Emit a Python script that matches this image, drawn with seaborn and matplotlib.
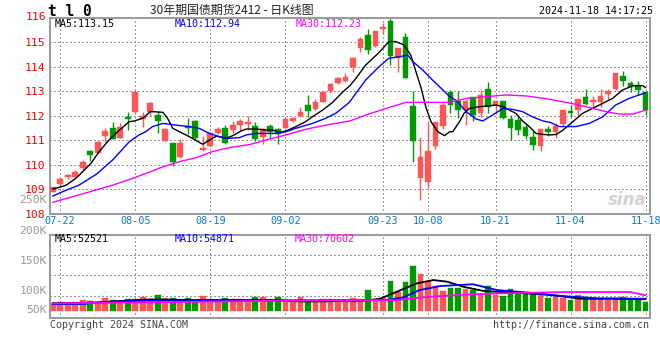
import matplotlib
matplotlib.use("Agg")
import matplotlib.pyplot as plt
import seaborn as sns
import numpy as np
import pandas as pd

# ---------------- data ----------------
dates = ["07-19",
         "07-22", "07-23", "07-24", "07-25", "07-26", "07-29", "07-30", "07-31", "08-01", "08-02",
         "08-05", "08-06", "08-07", "08-08", "08-09", "08-12", "08-13", "08-14", "08-15", "08-16",
         "08-19", "08-20", "08-21", "08-22", "08-23", "08-26", "08-27", "08-28", "08-29", "08-30",
         "09-02", "09-03", "09-04", "09-05", "09-06", "09-09", "09-10", "09-11", "09-12", "09-13",
         "09-18", "09-19", "09-20", "09-23", "09-24", "09-25", "09-26", "09-27", "09-30",
         "10-08", "10-09", "10-10", "10-11", "10-14", "10-15", "10-16", "10-17", "10-18",
         "10-21", "10-22", "10-23", "10-24", "10-25", "10-28", "10-29", "10-30", "10-31", "11-01",
         "11-04", "11-05", "11-06", "11-07", "11-08", "11-11", "11-12", "11-13", "11-14", "11-15",
         "11-18"]

opens = [108.90, 109.22, 109.50, 109.51, 109.86, 110.56, 110.50, 111.19, 111.49, 111.11,
         111.96, 112.17, 111.88, 112.17, 112.05, 110.99, 110.89, 110.32, 111.58, 111.79,
         110.60, 110.78, 111.30, 111.50, 111.42, 111.62, 111.67, 111.58, 111.15, 111.58,
         111.45, 111.50, 111.79, 112.00, 112.44, 112.29, 112.58, 113.01, 113.34, 113.42,
         114.00, 114.78, 115.30, 114.86, 115.56, 115.87, 114.35, 115.22, 112.40, 109.45,
         109.31, 110.78, 111.60, 112.96, 112.60, 112.24, 112.77, 112.13, 113.09, 112.44,
         112.60, 111.87, 111.83, 111.54, 111.13, 110.78, 111.46, 111.35, 111.68, 112.20,
         112.24, 112.78, 112.55, 112.55, 112.89, 113.09, 113.62, 113.34, 113.26, 112.98]
closes = [109.08, 109.42, 109.57, 109.72, 110.11, 110.41, 110.94, 111.39, 111.07, 111.54,
          111.87, 112.98, 112.00, 112.52, 111.79, 111.46, 110.13, 110.89, 111.50, 111.08,
          110.69, 111.28, 111.46, 110.89, 111.64, 111.79, 111.75, 111.07, 111.46, 111.32,
          111.24, 111.87, 111.92, 112.17, 112.20, 112.55, 112.98, 113.30, 113.53, 113.58,
          114.37, 115.13, 114.70, 115.46, 115.62, 114.45, 114.75, 113.56, 110.98, 110.32,
          110.56, 111.73, 112.44, 112.44, 112.25, 112.60, 112.03, 112.85, 112.37, 112.60,
          111.92, 111.51, 111.42, 111.19, 110.81, 111.46, 111.35, 111.58, 112.24, 112.13,
          112.69, 112.47, 112.64, 112.82, 113.01, 113.75, 113.42, 113.18, 113.07, 112.24]
highs = [109.11, 109.49, 109.62, 109.77, 110.20, 110.62, 110.97, 111.49, 111.76, 111.72,
         112.17, 113.00, 112.17, 112.55, 112.21, 111.49, 110.90, 111.05, 111.91, 111.83,
         111.16, 111.32, 111.54, 111.62, 111.79, 111.87, 111.99, 111.76, 111.49, 111.65,
         111.49, 111.95, 111.96, 112.36, 112.85, 112.69, 113.00, 113.35, 113.60, 113.73,
         114.39, 115.22, 115.54, 115.47, 115.79, 115.98, 114.76, 115.38, 113.01, 111.15,
         111.76, 111.74, 112.51, 113.05, 113.01, 112.64, 112.78, 113.05, 113.39, 112.64,
         112.62, 112.03, 112.03, 111.65, 111.38, 111.47, 111.58, 111.69, 112.26, 112.44,
         112.70, 113.09, 112.82, 113.09, 113.09, 113.76, 113.83, 113.42, 113.42, 113.00]
lows = [108.88, 109.11, 109.43, 109.45, 109.77, 110.17, 110.49, 110.94, 111.07, 111.08,
        111.42, 112.07, 111.56, 111.99, 111.31, 110.98, 109.95, 110.29, 111.27, 111.03,
        110.56, 110.74, 111.27, 110.86, 111.28, 111.39, 111.42, 110.97, 110.83, 111.11,
        110.83, 111.49, 111.73, 111.96, 111.96, 112.25, 112.55, 112.93, 113.30, 113.37,
        113.80, 114.62, 114.54, 114.82, 115.34, 114.07, 113.80, 113.55, 110.13, 108.56,
        109.04, 110.64, 111.46, 112.13, 111.92, 111.62, 111.79, 111.96, 112.13, 112.14,
        111.87, 111.01, 111.22, 111.05, 110.60, 110.56, 111.19, 111.11, 111.58, 111.96,
        112.03, 112.45, 112.37, 112.37, 112.64, 113.05, 113.22, 112.98, 112.85, 112.03]

# volume in thousands of lots
volumes_k = [34, 40, 31, 40, 49, 45, 34, 58, 49, 45,
             54, 54, 63, 49, 72, 58, 58, 49, 58, 48,
             67, 52, 49, 58, 54, 54, 49, 63, 63, 49,
             63, 49, 40, 63, 45, 40, 54, 52, 43, 42,
             58, 52, 94, 55, 60, 135, 85, 130, 202, 166,
             135, 112, 90, 103, 103, 99, 94, 76, 111, 72,
             67, 99, 85, 76, 76, 79, 58, 61, 58, 49,
             70, 62, 52, 55, 50, 60, 62, 50, 50, 42]

# price moving averages (position = trading-day index)
ma5_pos = [0, 0.9, 1.8, 3.1, 4.0, 5.1, 6.2, 7.5, 8.9, 10.2, 10.9, 12.0, 13.0, 13.3, 14.7, 15.3, 16.0,
           16.9, 18.2, 19.5, 20.0, 20.9, 21.8, 23.1, 24.0, 25.1, 25.8, 27.1, 28.4, 29.3, 30.2, 31.1,
           32.4, 33.7, 34.6, 36.0, 37.3, 38.6, 39.6, 40.4, 41.7, 43.5, 44.8, 45.7, 46.8, 47.7, 48.4,
           49.1, 49.7, 50.4, 51.3, 52.2, 52.9, 53.3, 54.2, 54.8, 55.5, 56.8, 58.2, 59.1, 60.0, 60.8,
           61.7, 62.6, 63.5, 64.4, 65.3, 66.3, 67.1, 68.0, 69.3, 70.6, 71.9, 73.3, 74.6, 75.9, 77.3,
           78.6, 79]
ma5_val = [109.01, 109.08, 109.17, 109.45, 109.72, 110.06, 110.54, 111.01, 111.42, 111.76, 111.79,
           111.90, 112.17, 112.17, 112.14, 111.90, 111.49, 111.35, 111.15, 110.92, 110.84, 111.01,
           111.17, 111.08, 111.19, 111.38, 111.46, 111.46, 111.42, 111.42, 111.32, 111.38, 111.56,
           111.76, 111.96, 112.24, 112.55, 112.96, 113.23, 113.53, 114.07, 114.59, 115.03, 115.03,
           114.89, 114.48, 113.80, 113.12, 112.37, 111.76, 111.35, 111.19, 111.35, 111.35, 111.76,
           112.10, 112.30, 112.37, 112.41, 112.44, 112.37, 112.24, 112.10, 111.79, 111.56, 111.28,
           111.24, 111.22, 111.24, 111.42, 111.76, 112.10, 112.30, 112.51, 112.71, 113.05, 113.23,
           113.23, 113.15]
ma10_pos = [0, 1.3, 3.5, 5.8, 8.0, 10.2, 11.5, 12.4, 13.3, 14.7, 16.4, 18.2, 19.5, 20.9, 22.2, 23.5,
            24.9, 25.8, 27.1, 29.8, 31.1, 32.4, 34.6, 36.4, 37.7, 39.1, 39.6, 40.4, 41.7, 43.5, 44.8,
            46.2, 47.3, 48.0, 49.3, 50.6, 52.0, 52.9, 53.7, 55.1, 56.4, 57.3, 58.6, 60.0, 61.3, 62.6,
            63.9, 65.3, 66.3, 67.5, 69.7, 71.5, 73.3, 75.0, 76.8, 78.1, 79]
ma10_val = [108.72, 108.90, 109.17, 109.61, 110.20, 110.94, 111.22, 111.35, 111.56, 111.69, 111.62,
            111.56, 111.49, 111.28, 111.15, 111.08, 111.11, 111.22, 111.28, 111.28, 111.35, 111.49,
            111.69, 111.90, 112.10, 112.44, 112.58, 112.92, 113.46, 114.01, 114.35, 114.41, 114.48,
            114.21, 113.87, 113.46, 113.05, 112.78, 112.64, 112.17, 111.87, 111.79, 112.03, 112.30,
            112.26, 112.17, 111.96, 111.79, 111.73, 111.56, 111.56, 111.69, 111.96, 112.44, 112.71,
            112.85, 112.94]
ma30_pos = [0, 3.5, 8.0, 10.7, 13.0, 14.7, 16.9, 19.1, 21.3, 23.5, 26.3, 28.4, 31.1, 33.7, 36.4, 39.6,
            41.7, 44.4, 47.1, 49.7, 52.9, 55.1, 57.7, 60.4, 63.1, 64.8, 66.3, 68.4, 71.1, 73.7, 75.5,
            77.3, 79]
ma30_val = [108.47, 108.77, 109.17, 109.45, 109.72, 109.92, 110.13, 110.29, 110.54, 110.70, 110.83,
            111.01, 111.22, 111.45, 111.62, 111.79, 112.03, 112.30, 112.55, 112.55, 112.55, 112.71,
            112.78, 112.85, 112.81, 112.74, 112.67, 112.55, 112.37, 112.17, 112.07, 112.07, 112.23]

# volume moving averages (thousands)
vma5_pos = [0, 5, 9, 13, 19, 24, 29, 33, 36.5, 39.2, 41.4, 43.6, 45.9, 48.5, 50.7, 52.5, 54.7, 57.4,
            61.4, 64.9, 67.6, 70.3, 74.7, 79]
vma5_val = [35, 36, 45, 52, 49, 49, 49, 43, 43, 46, 46, 55, 87, 124, 139, 132, 109, 90, 82, 76, 67,
            55, 55, 52.5]
vma10_pos = [0, 4.3, 5, 13, 20, 30, 36.5, 39.2, 44.5, 46.7, 48.9, 51.6, 56.0, 59.2, 63.6, 68.0, 72.5, 79]
vma10_val = [31, 31, 37, 48, 48, 48, 48, 49, 49, 61, 94, 112, 120, 94, 82, 67, 57, 54.9]
vma30_pos = [0, 15, 30, 36.5, 41.4, 45.9, 48.1, 51.6, 54.7, 59.2, 68.0, 76.9, 79]
vma30_val = [34, 40, 46, 48, 49, 49, 58, 67, 73, 79, 85, 85, 70.6]

date_ticks = ["07-22", "08-05", "08-19", "09-02", "09-23", "10-08", "10-21", "11-04", "11-18"]
price_ticks = [108, 109, 110, 111, 112, 113, 114, 115]
vol_labels = ["250K", "200K", "150K", "100K", "50K"]

title = "30年期国债期货2412 - 日K线图"
symbol = "t l 0"
stamp = "2024-11-18 14:17:25"
price_legend = ["MA5:113.15", "MA10:112.94", "MA30:112.23"]
vol_legend = ["MA5:52521", "MA10:54871", "MA30:70602"]

# ---------------- style ----------------
sns.set_style("white")
plt.rcParams["font.family"] = ["DejaVu Sans Mono", "Noto Sans CJK SC"]
plt.rcParams["lines.dash_capstyle"] = "butt"

RED = "#ff5555"
GREEN = "#009900"
GRID = "#999999"
BORDER = "#999999"
MONO = "DejaVu Sans Mono"
CJK = ["Noto Sans CJK SC", "DejaVu Sans"]
GRID_KW = dict(color=GRID, linewidth=0.72, linestyle=(0, (1.4, 2.6)), zorder=1.5,
               antialiased=False, dash_capstyle="butt")

W, H = 660, 360
fig = plt.figure(figsize=(6.6, 3.6), dpi=100)
fig.patch.set_facecolor("white")

def fx(px):
    return px / W

def fy(py):
    return 1 - py / H

L, R = 50.5, 650
ax = fig.add_axes([fx(L), fy(213.8), fx(R - L), (213.8 - 17.8) / H])
axv = fig.add_axes([fx(L), fy(318.3), fx(R - L), (318.3 - 234.7) / H])

n = len(dates)
xs = np.arange(n)
df = pd.DataFrame({"date": dates, "x": xs, "open": opens, "close": closes,
                   "high": highs, "low": lows, "vol": np.array(volumes_k) * 1000})
df["up"] = df["close"] >= df["open"]
colors = [RED if u else GREEN for u in df["up"]]

xlim = (-0.29, 79.58)
tick_pos = [dates.index(d) for d in date_ticks]

# ---------- price panel ----------
ax.set_xlim(*xlim)
ax.set_ylim(108, 116)
bw = 0.76
ax.vlines(df["x"], df["low"], df["high"], colors=colors, lw=1.0, zorder=2)
body_lo = np.minimum(df["open"], df["close"])
body_h = np.maximum(np.abs(df["close"] - df["open"]), 0.02)
ax.bar(df["x"], body_h, bottom=body_lo, width=bw, color=colors, edgecolor=colors,
       linewidth=0.3, zorder=3)

for pos, val, col in [(ma5_pos, ma5_val, "black"), (ma10_pos, ma10_val, "#0000ff"),
                      (ma30_pos, ma30_val, "#ff00ff")]:
    sns.lineplot(x=pos, y=val, ax=ax, color=col, lw=1.0, sort=False, estimator=None, zorder=4)

ax.set_xlim(*xlim)
ax.set_ylim(108, 116)
for p in price_ticks[1:]:
    ax.plot(list(xlim), [p, p], **GRID_KW)
for tp in tick_pos:
    ax.plot([tp, tp], [108, 116], **GRID_KW)

ax.set_xticks([])
ax.set_yticks(price_ticks)
ax.set_yticklabels([str(p) for p in price_ticks], color="red", fontsize=8.2, family=MONO)
ax.tick_params(axis="y", length=0, pad=4)
ax.set_xlabel("")
ax.set_ylabel("")
ax.grid(False)
for s in ax.spines.values():
    s.set_color(BORDER)
    s.set_linewidth(1.4)
    s.set_visible(True)

# 116 label above the panel
fig.text(fx(46), fy(16.5), "116", color="red", fontsize=8.2, family=MONO, ha="right", va="center")

# legends in panel
for txt, col, px in zip(price_legend, ["black", "#0000ff", "#ff00ff"], [55, 175, 296]):
    fig.text(fx(px), fy(24), txt, color=col, fontsize=7.2, family=MONO, ha="left", va="center")

# date labels
ylab = -(221.5 - 213.8) / 196
for tp, lab in zip(tick_pos, date_ticks):
    ax.text(tp, ylab, lab, transform=ax.get_xaxis_transform(), color="#0a78d0", fontsize=7.3,
            family=MONO, ha="center", va="center", clip_on=False)

# watermark
ax.text(0.995, 0.07, "sina", transform=ax.transAxes, color="#d8c8c8", fontsize=12,
        fontstyle="italic", fontweight="bold", family="DejaVu Sans", ha="right", va="center",
        alpha=0.9, zorder=1)

# ---------- volume panel ----------
scale_k = 4.49  # thousands per pixel
vlim = (-(318.3 - 311) * scale_k * 1000, (311 - 234.7) * scale_k * 1000)
axv.bar(df["x"], df["vol"], width=bw, color=colors, edgecolor=colors, linewidth=0.3, zorder=2)
for pos, val, col in [(vma5_pos, vma5_val, "black"), (vma10_pos, vma10_val, "#0000ff"),
                      (vma30_pos, vma30_val, "#ff00ff")]:
    sns.lineplot(x=pos, y=np.array(val) * 1000, ax=axv, color=col, lw=1.3, sort=False,
                 estimator=None, zorder=4)
axv.set_xlim(*xlim)
axv.set_ylim(*vlim)
for gp in [255, 275, 296]:
    gv = (311 - gp) * scale_k * 1000
    axv.plot(list(xlim), [gv, gv], **GRID_KW)
for tp in tick_pos:
    axv.plot([tp, tp], list(vlim), **GRID_KW)
axv.set_xlim(*xlim)
axv.set_ylim(*vlim)
axv.set_xticks([])
axv.set_yticks([])
axv.set_xlabel("")
axv.set_ylabel("")
axv.grid(False)
for s in axv.spines.values():
    s.set_color(BORDER)
    s.set_linewidth(1.4)
    s.set_visible(True)

for lab, py in zip(vol_labels, [200, 231, 261, 290.7, 310]):
    fig.text(fx(47), fy(py), lab, color="#999999", fontsize=8.2, family=MONO,
             ha="right", va="center")

for txt, col, px in zip(vol_legend, ["black", "#0000ff", "#ff00ff"], [54.5, 174.5, 295]):
    fig.text(fx(px), fy(238.5), txt, color=col, fontsize=7.2, family=MONO, ha="left", va="center")

# ---------- header / footer ----------
fig.text(fx(48.5), fy(11.5), symbol, color="black", fontsize=10.5, fontweight="bold",
         family=MONO, ha="left", va="center")
fig.text(fx(232), fy(10), title, color="#222222", fontsize=8.6, family=CJK,
         ha="center", va="center")
fig.text(fx(653), fy(11.5), stamp, color="black", fontsize=7.2, family=MONO,
         ha="right", va="center")
fig.text(fx(50), fy(324.5), "Copyright 2024 SINA.COM", color="#444444", fontsize=7.2,
         family=MONO, ha="left", va="center")
fig.text(fx(649), fy(324.5), "http://finance.sina.com.cn", color="#444444", fontsize=7.2,
         family=MONO, ha="right", va="center")

fig.savefig("out.png", dpi=100, facecolor="white")
